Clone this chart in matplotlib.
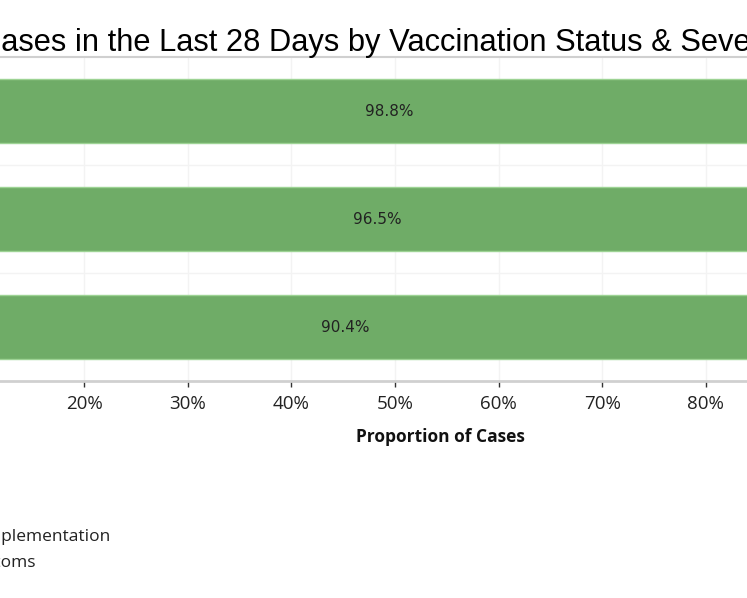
import matplotlib
matplotlib.use("Agg")
import matplotlib.pyplot as plt
from matplotlib.ticker import FixedLocator, FuncFormatter

# ---- data ----
categories = ["All Cases", "Hospitalised", "Died"]
unvaccinated_pct = [98.8, 96.5, 90.4]
bar_labels = ["98.8%", "96.5%", "90.4%"]
xticks = [0, 10, 20, 30, 40, 50, 60, 70, 80, 90, 100]
title_text = "Cases in the Last 28 Days by Vaccination Status & Severity"
xlabel_text = "Proportion of Cases"
legend_texts = ["Cases since vaccine programme implementation", "Cases with symptoms"]

W, H = 747, 598
fig = plt.figure(figsize=(W / 100, H / 100), dpi=100)

# axes placed in pixel space (the reference is a crop of a larger chart)
x0_px = -123.0          # 0% position
px_per_pct = 10.36
x_max = 105.0
ax_left = x0_px / W
ax_width = (x_max * px_per_pct) / W
top_px, bot_px = 57.0, 381.0
ax = fig.add_axes([ax_left, 1 - bot_px / H, ax_width, (bot_px - top_px) / H])

green = "#6FAC67"
ypos = list(range(len(categories)))
ax.barh(ypos, unvaccinated_pct, height=0.6, color=green,
        edgecolor="#9DD394", linewidth=1.0, zorder=3)
for y, v, lab in zip(ypos, unvaccinated_pct, bar_labels):
    ax.text(v / 2, y, lab, ha="center", va="center", fontsize=11,
            family="DejaVu Sans", color="#222222", zorder=4)

ax.set_xlim(0, x_max)
ax.set_ylim(len(categories) - 0.5, -0.5)
ax.set_yticks(ypos)
ax.set_yticklabels(categories)

ax.xaxis.set_major_locator(FixedLocator(xticks))
ax.xaxis.set_major_formatter(FuncFormatter(lambda v, p: f"{v:.0f}%"))
ax.tick_params(axis="x", length=4, width=1, color="#333333", pad=6,
               labelsize=13.5, labelcolor="#222222")
for t in ax.get_xticklabels():
    t.set_family("Open Sans")
ax.tick_params(axis="y", length=0)

# gridlines
for xv in xticks:
    ax.axvline(xv, color="#F3F3F3", linewidth=1, zorder=1)
for yv in [0.5, 1.5]:
    ax.axhline(yv, color="#F3F3F3", linewidth=1, zorder=1)

for s in ["left", "right"]:
    ax.spines[s].set_visible(False)
ax.spines["bottom"].set_color("#D0D0D0")
ax.spines["bottom"].set_linewidth(2)
ax.spines["top"].set_color("#D0D0D0")
ax.spines["top"].set_linewidth(1.5)

# title (partly outside the crop)
fig.text(-21 / W, 1 - 43 / H, title_text, ha="left", va="center",
         fontsize=22.2, family="Liberation Sans", color="#000000")

# x-axis label
fig.text(440 / W, 1 - 437 / H, xlabel_text, ha="center", va="center",
         fontsize=12.5, family="Open Sans", fontweight="bold", color="#111111")

# legend texts (left part cut off by the crop)
fig.text(110 / W, 1 - 537 / H, legend_texts[0], ha="right", va="center",
         fontsize=12.5, family="Open Sans", color="#222222")
fig.text(36 / W, 1 - 563 / H, legend_texts[1], ha="right", va="center",
         fontsize=12.5, family="Open Sans", color="#222222")

fig.savefig("out.png", dpi=100)
